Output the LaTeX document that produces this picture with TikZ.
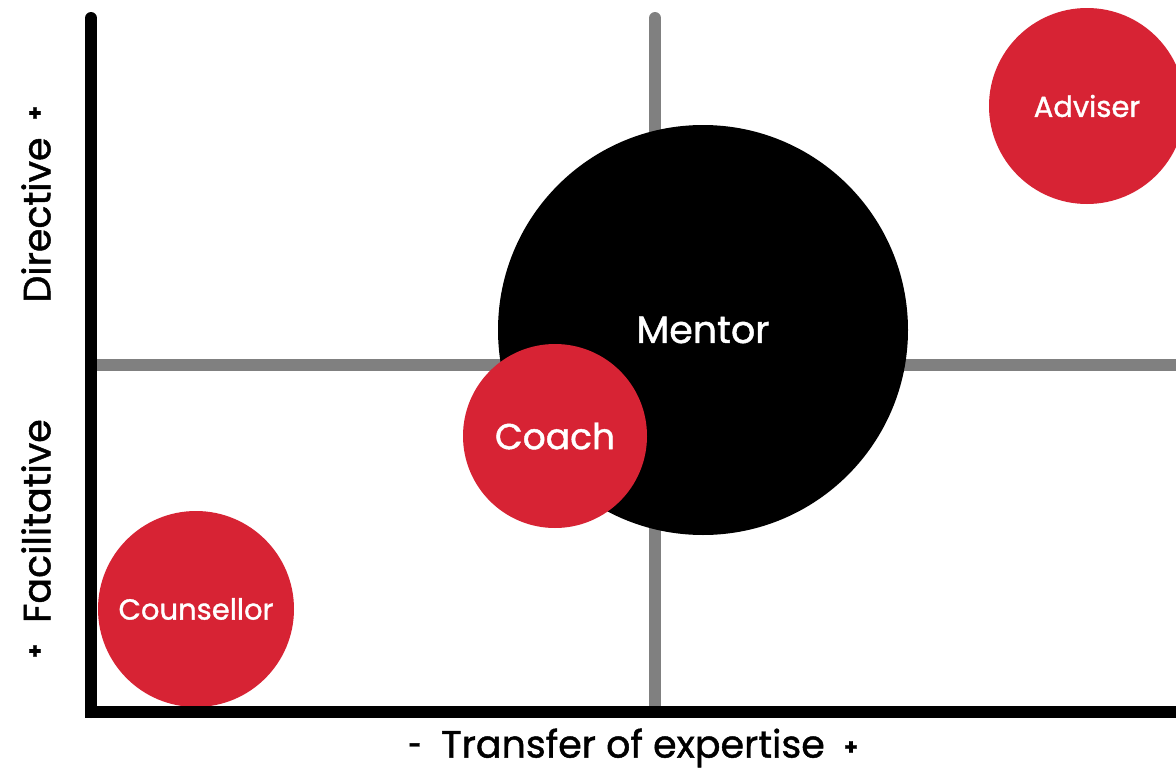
\documentclass[tikz,border=0pt]{standalone}
\usepackage{fontspec}
\setmainfont{Poppins}[FakeBold=1.2]
\definecolor{bubred}{RGB}{215,35,52}
\definecolor{gridgray}{RGB}{128,128,128}
\begin{document}
\begin{tikzpicture}[x=1pt,y=-1pt,
  gridline/.style={line width=12pt,gridgray,line cap=round},
  axisline/.style={line width=12pt,black,line cap=round},
  bubble/.style={circle,inner sep=0pt,text=white},
  axislabel/.style={font=\fontsize{38}{42}\selectfont,black,inner sep=0pt},
  pm/.style={font=\fontsize{22}{26}\selectfont\bfseries,black,inner sep=0pt}]
\useasboundingbox (0,0) rectangle (1176,771);
\fill[white] (0,0) rectangle (1176,771);
% grid
\draw[gridline] (655,18) -- (655,705);
\draw[gridline,line cap=butt] (97,365) -- (1176,365);
% bubbles
\node[bubble,fill=black,minimum size=410pt,font=\fontsize{38}{42}\selectfont] (mentor) at (703,330) {Mentor};
\node[bubble,fill=bubred,minimum size=184pt,font=\fontsize{36}{40}\selectfont] (coach) at (555,436) {Coach};
\node[bubble,fill=bubred,minimum size=196pt,font=\fontsize{29}{32}\selectfont] (adviser) at (1087,106) {Adviser};
\node[bubble,fill=bubred,minimum size=196pt,font=\fontsize{29}{32}\selectfont] (counsellor) at (196,609) {Counsellor};
% axes
\draw[axisline] (91,18) -- (91,712);
\draw[axisline,line cap=butt] (85,712) -- (1176,712);
% labels
\node[axislabel,anchor=center] (xlab) at (633,748) {Transfer of expertise};
\node[pm] (xminus) at (415,748) {-};
\node[pm] (xplus) at (851,748) {+};
\node[axislabel,rotate=90] (ylab1) at (36,220) {Directive};
\node[pm,rotate=90] (yplus1) at (36,113) {+};
\node[axislabel,rotate=90] (ylab2) at (36,521) {Facilitative};
\node[pm,rotate=90] (yplus2) at (36,651) {+};
\end{tikzpicture}
\end{document}
